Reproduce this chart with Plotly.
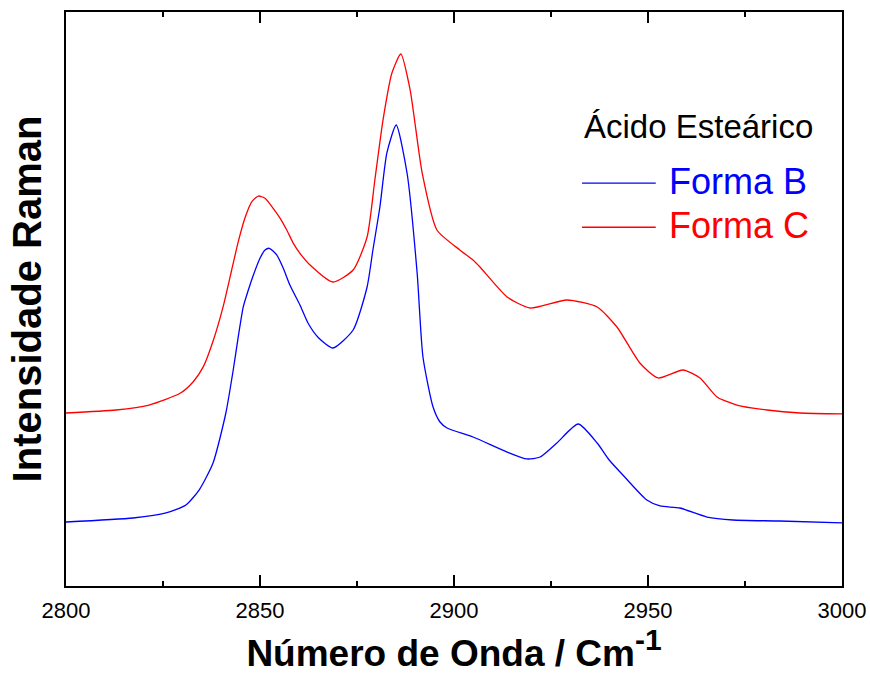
import plotly.graph_objects as go

# Raman spectra of stearic acid in the C-H stretching region
wavenumber_b = [2800, 2817.3, 2825.8, 2830.9, 2834.3, 2837.9, 2841.2, 2843.1, 2844.4,
                2845.7, 2847.0, 2848.3, 2850.0, 2851.3, 2852.4, 2854.3, 2856.0, 2857.7,
                2860.3, 2862.4, 2865.0, 2868.8, 2874.0, 2877.6, 2879.1, 2880.9, 2882.7,
                2885.1, 2887.9, 2890.5, 2892.0, 2894.6, 2896.4, 2898.2, 2904.9, 2913.7,
                2918.8, 2922.2, 2926.5, 2932.0, 2936.9, 2940.0, 2944.0, 2949.7, 2953.1,
                2958.2, 2965.2, 2971.9, 2984.0, 3000]
intensity_b = [11.15, 11.85, 12.72, 14.11, 16.72, 21.43, 30.14, 37.63, 43.43,
               48.66, 51.57, 54.18, 57.09, 58.54, 58.83, 57.67, 55.35, 52.44,
               48.95, 45.77, 43.30, 41.46, 44.60, 52.09, 58.54, 66.03, 75.44,
               80.31, 71.95, 54.53, 39.90, 31.18, 28.57, 27.53, 25.96, 23.34,
               22.13, 22.47, 24.91, 28.22, 24.91, 21.95, 18.99, 14.98, 13.94,
               13.59, 12.02, 11.50, 11.32, 10.98]

wavenumber_c = [2800, 2812.9, 2821.4, 2829.4, 2832.8, 2835.4, 2838.0, 2840.5, 2842.7,
                2844.4, 2846.1, 2847.9, 2849.6, 2851.3, 2853.4, 2855.2, 2856.9, 2858.6,
                2860.3, 2862.9, 2868.8, 2874.0, 2877.6, 2879.6, 2881.7, 2884.0, 2886.3,
                2888.7, 2891.8, 2895.6, 2901.5, 2904.9, 2906.7, 2913.7, 2919.6, 2929.1,
                2936.9, 2942.0, 2947.9, 2952.6, 2959.0, 2963.4, 2967.8, 2972.9, 2980.7,
                2989.2, 3000]
intensity_c = [30.14, 30.66, 31.53, 33.57, 35.59, 38.21, 42.86, 48.66, 55.05,
               59.98, 64.06, 66.95, 67.94, 67.54, 65.80, 64.06, 62.02, 59.70,
               57.96, 55.92, 52.96, 55.05, 60.80, 70.73, 81.18, 89.37, 92.68,
               86.41, 71.95, 62.02, 58.54, 56.79, 55.57, 50.35, 48.43, 49.83,
               48.61, 45.12, 38.85, 36.24, 37.63, 36.24, 32.93, 31.53, 30.66,
               30.14, 29.97]

x_ticks = [2800, 2850, 2900, 2950, 3000]
series_names = ["Forma B", "Forma C"]
series_colors = ["#0000ff", "#ff0000"]
legend_title = "Ácido Esteárico"

FONT = "Arial, 'Liberation Sans', sans-serif"

fig = go.Figure()
for xs, ys, name, color in [(wavenumber_b, intensity_b, series_names[0], series_colors[0]),
                            (wavenumber_c, intensity_c, series_names[1], series_colors[1])]:
    fig.add_trace(go.Scatter(x=xs, y=ys, mode="lines", name=name, showlegend=False,
                             line=dict(color=color, width=1.3, shape="spline", smoothing=0.6)))

# Hand-built legend: title, sample lines and coloured labels
fig.add_annotation(x=0.665, y=0.80, xref="paper", yref="paper", text=legend_title,
                   showarrow=False, xanchor="left", yanchor="middle",
                   font=dict(family=FONT, size=33, color="black"))
for i, (name, color) in enumerate(zip(series_names, series_colors)):
    ly = 0.702 - i * 0.077
    fig.add_shape(type="line", xref="paper", yref="paper", x0=0.665, x1=0.760, y0=ly, y1=ly,
                  line=dict(color=color, width=1.3))
    fig.add_annotation(x=0.7745, y=ly + 0.003, xref="paper", yref="paper", text=name,
                       showarrow=False, xanchor="left", yanchor="middle",
                       font=dict(family=FONT, size=36, color=color))

fig.update_layout(
    template="none",
    width=870, height=675,
    margin=dict(l=66, r=28, t=12, b=89, pad=0),
    paper_bgcolor="white", plot_bgcolor="white",
    font=dict(family=FONT, color="black"),
    showlegend=False,
)
fig.update_xaxes(
    automargin=False,
    range=[2800, 3000], tickvals=x_ticks, ticktext=[str(v) for v in x_ticks],
    ticks="inside", ticklen=11, tickwidth=2, tickcolor="black",
    minor=dict(dtick=25, tick0=2800, ticks="inside", ticklen=5, tickwidth=2, tickcolor="black"),
    showline=True, linewidth=2, linecolor="black", mirror="allticks",
    showgrid=False, zeroline=False,
    tickfont=dict(family=FONT, size=22), ticklabelstandoff=4,
    title=dict(text="<b>Número de Onda / Cm<sup><span style='font-size:30px'>-1</span></sup></b>",
               font=dict(family=FONT, size=37), standoff=10),
)
fig.update_yaxes(
    automargin=False,
    range=[0, 100], showticklabels=False, ticks="",
    showline=True, linewidth=2, linecolor="black", mirror=True,
    showgrid=False, zeroline=False,
    title=dict(text="<b>Intensidade Raman</b>", font=dict(family=FONT, size=40), standoff=10),
)

fig.write_html("out.html", config={"responsive": False})
